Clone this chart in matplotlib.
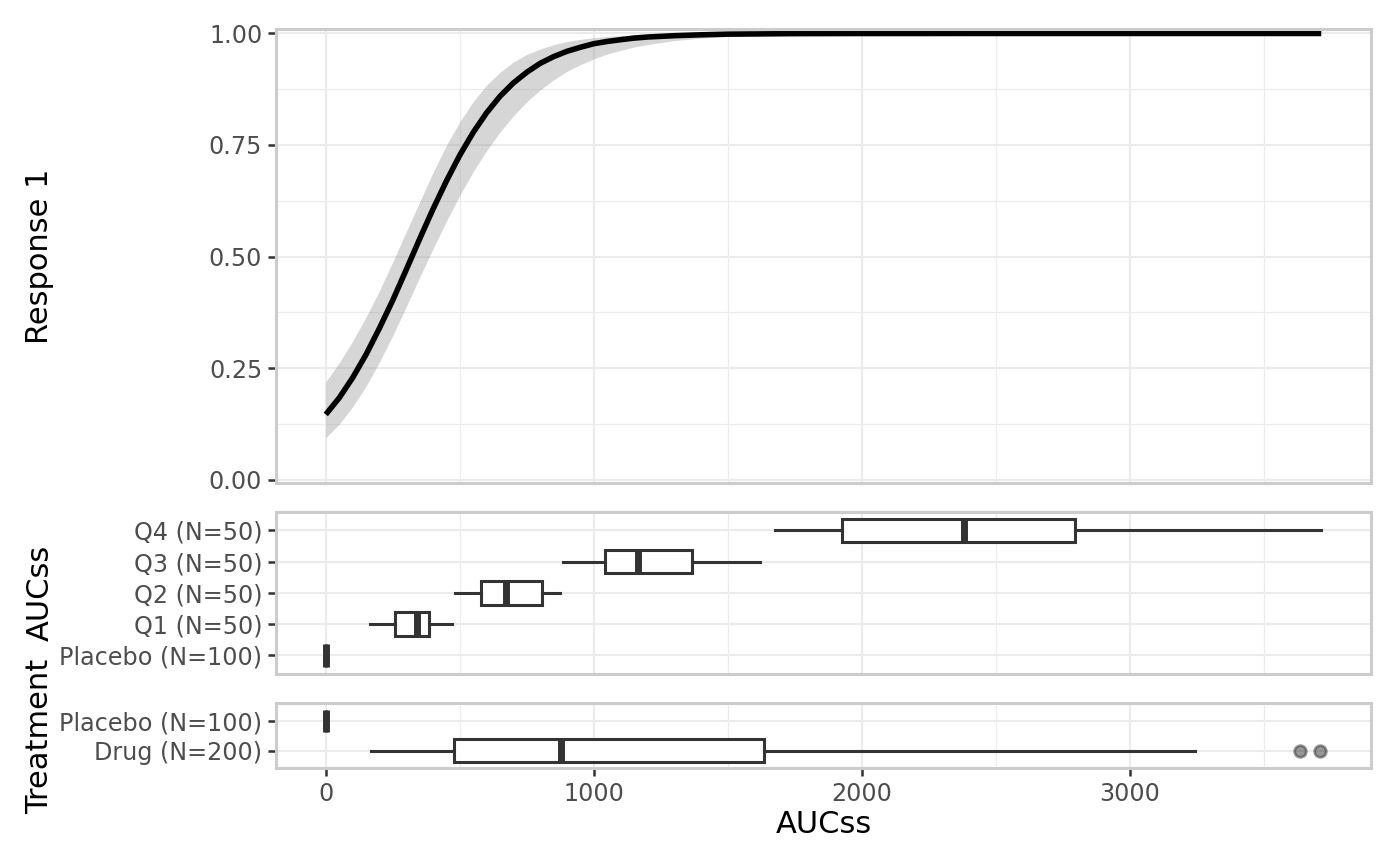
import numpy as np
import matplotlib.pyplot as plt
from matplotlib.ticker import MultipleLocator, FormatStrFormatter

# exposure-response curve (fit and 95% band)
auc_grid = [0, 50, 100, 150, 200, 250, 300, 350, 400, 450, 500, 550, 600, 650,
            700, 750, 800, 850, 900, 950, 1000, 1050, 1100, 1150, 1200, 1300, 1400,
            1500, 1750, 2000, 2500, 3000, 3500, 3715]
resp_fit = [0.146, 0.183, 0.228, 0.280, 0.339, 0.402, 0.470, 0.539, 0.606, 0.669,
            0.727, 0.778, 0.822, 0.859, 0.889, 0.913, 0.933, 0.948, 0.960, 0.969,
            0.977, 0.982, 0.986, 0.9896, 0.992, 0.995, 0.997, 0.9985, 0.9996, 0.9999,
            1.0, 1.0, 1.0, 1.0]
resp_lo = [0.094, 0.124, 0.163, 0.209, 0.263, 0.323, 0.387, 0.453, 0.517, 0.579,
           0.637, 0.690, 0.737, 0.779, 0.815, 0.847, 0.873, 0.896, 0.915, 0.930,
           0.943, 0.954, 0.962, 0.9696, 0.975, 0.984, 0.9895, 0.993, 0.9976, 0.9992,
           0.9999, 1.0, 1.0, 1.0]
resp_hi = [0.219, 0.262, 0.310, 0.364, 0.423, 0.488, 0.555, 0.622, 0.688, 0.749,
           0.802, 0.847, 0.884, 0.913, 0.936, 0.953, 0.965, 0.9748, 0.982, 0.9868,
           0.9905, 0.9932, 0.995, 0.9965, 0.9975, 0.9987, 0.9993, 0.9997, 1.0, 1.0,
           1.0, 1.0, 1.0, 1.0]

# AUCss quartile boxes (bottom to top)
quart_labels = ["Placebo (N=100)", "Q1 (N=50)", "Q2 (N=50)", "Q3 (N=50)", "Q4 (N=50)"]
quart_whislo = [0, 166, 483, 886, 1676]
quart_q1 = [0, 257, 581, 1043, 1927]
quart_med = [0, 340, 673, 1164, 2382]
quart_q3 = [0, 387, 808, 1366, 2795]
quart_whishi = [0, 470, 875, 1622, 3715]

# treatment boxes (bottom to top)
trt_labels = ["Drug (N=200)", "Placebo (N=100)"]
trt_whislo = [170, 0]
trt_q1 = [480, 0]
trt_med = [879, 0]
trt_q3 = [1636, 0]
trt_whishi = [3245, 0]
trt_fliers = [[3635, 3711], []]

W, H = 1400, 866
DARK = "#333333"


def box_stats(labels, lo, q1, med, q3, hi, fliers=None):
    out = []
    for i, lab in enumerate(labels):
        out.append(dict(label=lab, whislo=lo[i], q1=q1[i], med=med[i], q3=q3[i],
                        whishi=hi[i], fliers=fliers[i] if fliers else []))
    return out


def style(ax, xmax, show_x):
    ax.set_xlim(-0.05 * xmax, 1.05 * xmax)
    ax.xaxis.set_major_locator(MultipleLocator(1000))
    ax.xaxis.set_minor_locator(MultipleLocator(500))
    ax.grid(which="major", color="#EBEBEB", lw=0.75)
    ax.grid(which="minor", axis="x", color="#EBEBEB", lw=0.4)
    ax.set_axisbelow(True)
    for s in ax.spines.values():
        s.set_color("#CCCCCC")
        s.set_linewidth(1.1)
    ax.tick_params(which="major", color=DARK, length=2.75, width=0.9,
                   labelsize=8.6, labelcolor="#4D4D4D", pad=2.2)
    ax.tick_params(which="minor", length=0)
    if not show_x:
        ax.tick_params(axis="x", which="major", length=0, labelbottom=False)


def panel(top, bottom):
    return [276 / W, 1 - bottom / H, (1371 - 276) / W, (bottom - top) / H]


fig = plt.figure(figsize=(7, 4.33), dpi=200)
xmax = auc_grid[-1]

# top panel: response curve
ax1 = fig.add_axes(panel(29, 482.7))
ax1.fill_between(auc_grid, resp_lo, resp_hi, color="#999999", alpha=0.4, lw=0)
ax1.plot(auc_grid, resp_fit, color="black", lw=2.0, solid_capstyle="butt",
         solid_joinstyle="round")
ax1.set_ylim(-0.007, 1.01)
ax1.set_yticks([0, 0.25, 0.5, 0.75, 1.0])
ax1.yaxis.set_minor_locator(MultipleLocator(0.125))
ax1.yaxis.set_major_formatter(FormatStrFormatter("%.2f"))
style(ax1, xmax, False)
ax1.grid(which="minor", axis="y", color="#EBEBEB", lw=0.4)

bkw = dict(orientation="horizontal", widths=0.75, showcaps=False, patch_artist=True,
           boxprops=dict(facecolor="white", edgecolor=DARK, lw=1.1),
           whiskerprops=dict(color=DARK, lw=1.1),
           medianprops=dict(color=DARK, lw=2.5, solid_capstyle="butt"),
           flierprops=dict(marker="o", markersize=4.2, markerfacecolor=DARK,
                           markeredgecolor=DARK, alpha=0.5))

# middle panel: quartiles of AUCss
ax2 = fig.add_axes(panel(511.7, 674))
ax2.bxp(box_stats(quart_labels, quart_whislo, quart_q1, quart_med, quart_q3, quart_whishi),
        positions=np.arange(1, len(quart_labels) + 1), **bkw)
ax2.set_ylim(0.4, len(quart_labels) + 0.6)
style(ax2, xmax, False)

# bottom panel: treatment
ax3 = fig.add_axes(panel(703.3, 768.3))
ax3.bxp(box_stats(trt_labels, trt_whislo, trt_q1, trt_med, trt_q3, trt_whishi, trt_fliers),
        positions=np.arange(1, len(trt_labels) + 1), **bkw)
ax3.set_ylim(0.4, len(trt_labels) + 0.6)
style(ax3, xmax, True)
ax3.set_xticks([0, 1000, 2000, 3000])
ax3.set_xticklabels(["0", "1000", "2000", "3000"])
ax3.set_xlabel("AUCss", fontsize=11, labelpad=1.5)

fig.text(40 / W, 1 - 256 / H, "Response 1", rotation=90, ha="center", va="center", fontsize=11)
fig.text(40 / W, 1 - 593 / H, "AUCss", rotation=90, ha="center", va="center", fontsize=11)
fig.text(40 / W, 1 - 736 / H, "Treatment", rotation=90, ha="center", va="center", fontsize=11)

fig.savefig("out.png", dpi=200)
